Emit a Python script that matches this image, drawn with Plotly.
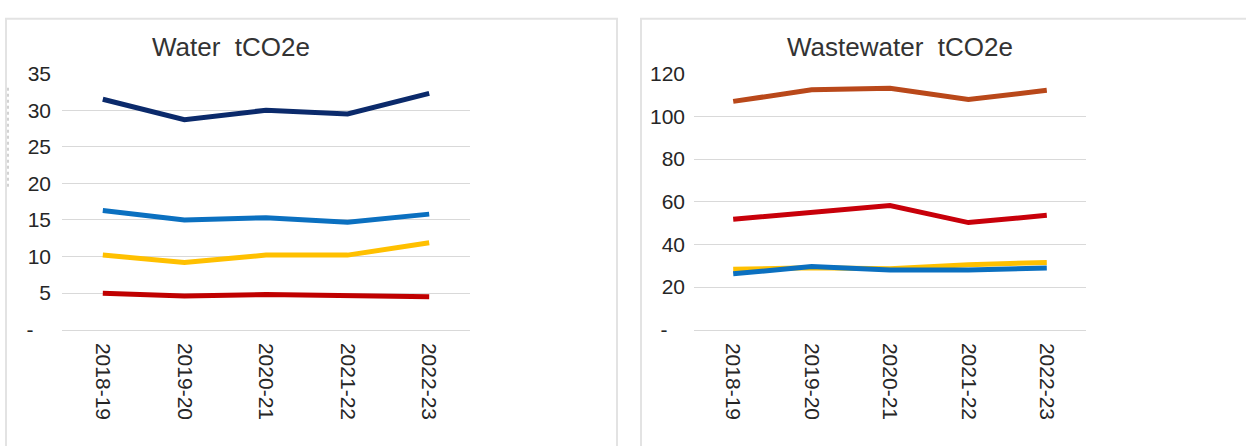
import plotly.graph_objects as go

# Reporting years shared by both panels
years = ["2018-19", "2019-20", "2020-21", "2021-22", "2022-23"]

# Water emissions (tCO2e)
water_navy = [31.5, 28.7, 30.0, 29.5, 32.3]
water_blue = [16.3, 15.0, 15.3, 14.7, 15.8]
water_yellow = [10.2, 9.2, 10.2, 10.2, 11.9]
water_red = [5.0, 4.6, 4.8, 4.6, 4.5]

# Wastewater emissions (tCO2e)
ww_brown = [107.0, 112.4, 113.2, 107.9, 112.2]
ww_red = [51.8, 54.8, 58.2, 50.2, 53.6]
ww_yellow = [28.3, 29.0, 28.6, 30.5, 31.5]
ww_blue = [26.2, 29.6, 28.0, 28.0, 28.9]

water_ticks = [0, 5, 10, 15, 20, 25, 30, 35]
ww_ticks = [0, 20, 40, 60, 80, 100, 120]

W, H = 1246, 446
FONT = "Liberation Sans, Arial, sans-serif"
GRID = "#d9d9d9"
TEXT = "#262626"
NB = "\u00a0"


def px_x(v):
    return v / W


def px_y(v):
    return 1 - v / H


def tick_text(vals):
    # accounting-style zero shown as a dash
    return [("-" + NB * 3) if v == 0 else str(v) for v in vals]


fig = go.Figure()

water_series = [
    (water_navy, "#0b2a6b"),
    (water_blue, "#0b70c0"),
    (water_yellow, "#ffc000"),
    (water_red, "#c00000"),
]
ww_series = [
    (ww_brown, "#b9481a"),
    (ww_red, "#c8000a"),
    (ww_yellow, "#ffc000"),
    (ww_blue, "#0b70c0"),
]

for vals, col in water_series:
    fig.add_trace(go.Scatter(x=years, y=vals, mode="lines", xaxis="x", yaxis="y",
                             line=dict(color=col, width=5), showlegend=False,
                             hoverinfo="skip"))
for vals, col in ww_series:
    fig.add_trace(go.Scatter(x=years, y=vals, mode="lines", xaxis="x2", yaxis="y2",
                             line=dict(color=col, width=5), showlegend=False,
                             hoverinfo="skip"))

ydom = [px_y(335), px_y(65)]

common_x = dict(
    type="category", range=[-0.5, 4.5], showgrid=False, zeroline=False,
    showline=True, linecolor=GRID, linewidth=1, ticks="", tickangle=90,
    tickfont=dict(family=FONT, size=21, color=TEXT), ticklabelstandoff=8,
    fixedrange=True,
)
common_y = dict(
    showgrid=True, gridcolor=GRID, gridwidth=1, zeroline=False, showline=False,
    ticks="", tickfont=dict(family=FONT, size=21, color=TEXT), fixedrange=True,
)

fig.update_layout(
    width=W, height=H,
    margin=dict(l=0, r=0, t=0, b=0),
    paper_bgcolor="white", plot_bgcolor="white",
    font=dict(family=FONT),
    xaxis=dict(domain=[px_x(62), px_x(470)], anchor="y", **common_x),
    yaxis=dict(domain=ydom, anchor="x", range=[0, 35], tickmode="array",
               tickvals=water_ticks, ticktext=tick_text(water_ticks),
               ticklabelstandoff=10, **common_y),
    xaxis2=dict(domain=[px_x(694), px_x(1086)], anchor="y2", **common_x),
    yaxis2=dict(domain=ydom, anchor="x2", range=[0, 120], tickmode="array",
                tickvals=ww_ticks, ticktext=tick_text(ww_ticks),
                ticklabelstandoff=8, **common_y),
    shapes=[
        # panel frames
        dict(type="rect", xref="paper", yref="paper",
             x0=px_x(6), x1=px_x(617), y0=-0.05, y1=px_y(7),
             line=dict(color="#e3e3e3", width=2), fillcolor="rgba(0,0,0,0)"),
        dict(type="rect", xref="paper", yref="paper",
             x0=px_x(641), x1=1.05, y0=-0.05, y1=px_y(7),
             line=dict(color="#e3e3e3", width=2), fillcolor="rgba(0,0,0,0)"),
        # dotted mark along the left frame edge
        dict(type="line", xref="paper", yref="paper",
             x0=px_x(8), x1=px_x(8), y0=px_y(80), y1=px_y(186),
             line=dict(color="#c4c4c4", width=1.5, dash="dot")),
    ],
    annotations=[
        dict(text="Water" + NB + " tCO2e", xref="paper", yref="paper",
             x=px_x(150), y=px_y(36.5), xanchor="left", yanchor="middle",
             showarrow=False, font=dict(family=FONT, size=26, color="#333333")),
        dict(text="Wastewater" + NB + " tCO2e", xref="paper", yref="paper",
             x=px_x(785), y=px_y(36.5), xanchor="left", yanchor="middle",
             showarrow=False, font=dict(family=FONT, size=26, color="#333333")),
    ],
)

fig.write_html("out.html")
